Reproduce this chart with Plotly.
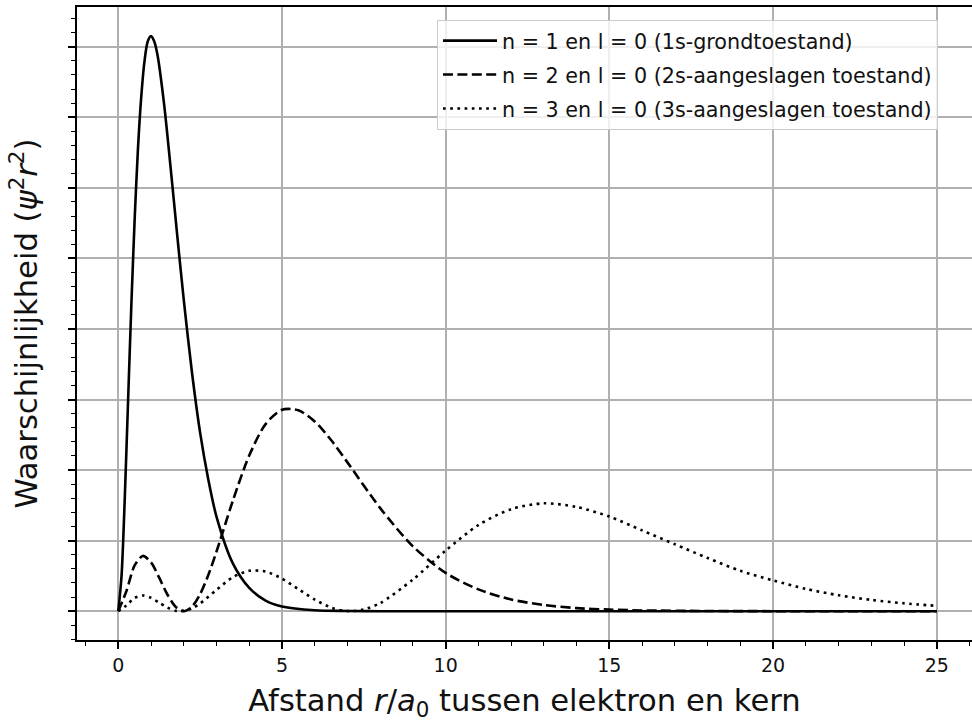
import plotly.graph_objects as go

# Radial distance r/a0 and probability (psi^2 r^2)
r_1s = [0, 0.1, 0.2, 0.3, 0.4, 0.5, 0.6, 0.7, 0.8, 0.9, 1.0, 1.1, 1.2, 1.4, 1.6, 1.8,
        2.0, 2.25, 2.5, 2.75, 3.0, 3.5, 4.0, 4.5, 5.0, 6.0, 7.0, 8.0, 10, 15, 20, 25]
p_1s = [0, 0.033, 0.107, 0.198, 0.288, 0.368, 0.434, 0.483, 0.517, 0.536, 0.541, 0.536,
        0.523, 0.477, 0.417, 0.354, 0.293, 0.225, 0.168, 0.124, 0.089, 0.045, 0.022,
        0.010, 0.0045, 0.0009, 0.0002, 0, 0, 0, 0, 0]

r_2s = [0, 0.25, 0.5, 0.75, 1.0, 1.25, 1.5, 1.75, 2.0, 2.25, 2.5, 2.75, 3.0, 3.5, 4.0,
        4.5, 5.0, 5.5, 6.0, 6.5, 7.0, 8.0, 9.0, 10, 11, 12, 13, 14, 15, 16, 18, 20, 25]
p_2s = [0, 0.019, 0.043, 0.052, 0.046, 0.0315, 0.0157, 0.0042, 0, 0.0042, 0.016, 0.034,
        0.056, 0.104, 0.1465, 0.176, 0.1895, 0.189, 0.1785, 0.161, 0.140, 0.097, 0.061,
        0.036, 0.0205, 0.011, 0.0058, 0.0029, 0.0015, 0.0007, 0.0002, 0, 0]

r_3s = [0, 0.25, 0.5, 0.75, 1.0, 1.25, 1.5, 1.75, 1.9, 2.25, 2.5, 3.0, 3.5, 4.0, 4.5,
        5.0, 5.5, 6.0, 6.5, 6.8, 7.1, 7.5, 8, 9, 10, 11, 12, 13, 14, 15, 16, 17, 18,
        19, 20, 21, 22, 23, 24, 25]
p_3s = [0, 0.0055, 0.0125, 0.0148, 0.0126, 0.008, 0.0034, 0.0005, 0, 0.0026, 0.0073,
        0.020, 0.032, 0.038, 0.0373, 0.0306, 0.0208, 0.0109, 0.0034, 0.0009, 0, 0.0016,
        0.0076, 0.0298, 0.057, 0.081, 0.096, 0.1015, 0.098, 0.089, 0.076, 0.063, 0.050,
        0.038, 0.029, 0.021, 0.015, 0.0106, 0.0074, 0.005]

labels = ["n = 1 en l = 0 (1s-grondtoestand)",
          "n = 2 en l = 0 (2s-aangeslagen toestand)",
          "n = 3 en l = 0 (3s-aangeslagen toestand)"]

FONT = "DejaVu Sans"
LW = 2.6

fig = go.Figure()
series = [(r_1s, p_1s, "solid"), (r_2s, p_2s, "10px,4.4px"), (r_3s, p_3s, "2.7px,4.5px")]
for i, (rx, py, dash) in enumerate(series):
    fig.add_trace(go.Scatter(
        x=rx, y=py, mode="lines", name=labels[i], legendgroup=f"g{i}",
        line=dict(color="black", width=LW, dash=dash, shape="spline", smoothing=0.8),
    ))

major = 0.06638
fig.update_layout(
    width=972, height=722,
    margin=dict(l=77, r=0, t=7, b=82),
    paper_bgcolor="white", plot_bgcolor="white",
    font=dict(family=FONT, color="black"),
    showlegend=True,
    legend=dict(
        x=0.962, y=0.980, xanchor="right", yanchor="top",
        bgcolor="rgba(255,255,255,0.8)", bordercolor="#cccccc", borderwidth=1,
        font=dict(family=FONT, size=20.7, color="#111111"),
        tracegroupgap=4, traceorder="grouped", itemwidth=54,
    ),
    xaxis=dict(
        range=[-1.26, 26.075], tick0=0, dtick=5,
        showgrid=True, gridcolor="#b0b0b0", gridwidth=1.5, zeroline=False,
        showline=True, linecolor="black", linewidth=1.5, mirror=True,
        ticks="outside", ticklen=7, tickwidth=1.5, tickcolor="black",
        tickfont=dict(family=FONT, size=19, color="#111111"),
        minor=dict(dtick=1, tick0=0, ticks="outside", ticklen=4, tickwidth=1.2,
                   tickcolor="black", showgrid=False),
        title=dict(text="Afstand <i>r</i>/<i>a</i><sub>0</sub> tussen elektron en kern",
                   font=dict(family=FONT, size=30.6, color="#111111"), standoff=15),
        automargin=False,
    ),
    yaxis=dict(
        range=[-0.0271, 0.5684], tick0=0, dtick=major,
        showgrid=True, gridcolor="#b0b0b0", gridwidth=1.5, zeroline=False,
        showline=True, linecolor="black", linewidth=1.5, mirror=False,
        showticklabels=False,
        ticks="outside", ticklen=7, tickwidth=1.5, tickcolor="black",
        minor=dict(dtick=major / 5, tick0=0, ticks="outside", ticklen=4, tickwidth=1.2,
                   tickcolor="black", showgrid=False),
        title=dict(text="Waarschijnlijkheid (<i>ψ</i><sup>2</sup><i>r</i><sup>2</sup>)",
                   font=dict(family=FONT, size=30.6, color="#111111"), standoff=22),
        automargin=False,
    ),
)

fig.write_html("out.html")
